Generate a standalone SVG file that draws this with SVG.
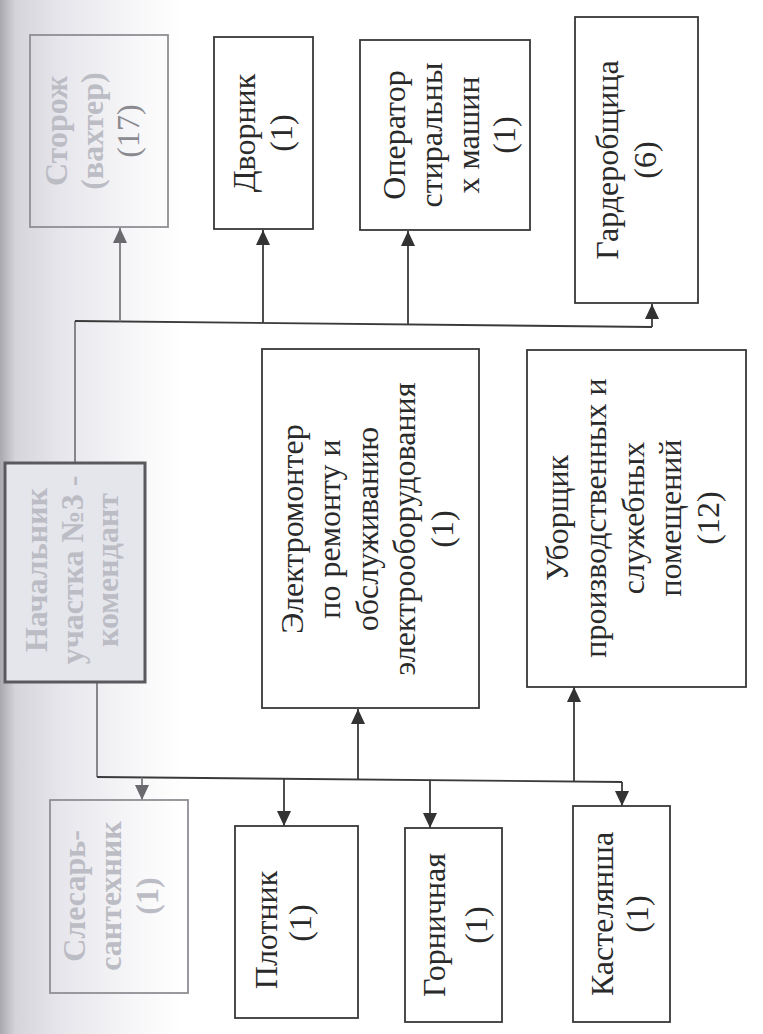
<svg xmlns="http://www.w3.org/2000/svg" width="763" height="1034" viewBox="0 0 763 1034">
  <defs>
    <linearGradient id="page" x1="0" y1="0" x2="763" y2="0" gradientUnits="userSpaceOnUse">
      <stop offset="0" stop-color="#a8a8ae"/>
      <stop offset="0.02" stop-color="#d4d4da"/>
      <stop offset="0.08" stop-color="#e6e6ec"/>
      <stop offset="0.17" stop-color="#f6f6f8"/>
      <stop offset="0.24" stop-color="#ffffff"/>
      <stop offset="1" stop-color="#ffffff"/>
    </linearGradient>
    <marker id="ah" markerUnits="userSpaceOnUse" markerWidth="16" markerHeight="14" refX="15" refY="7" orient="auto">
      <path d="M0,0 L15,7 L0,14 z" fill="#333"/>
    </marker>
    <marker id="ahf" markerUnits="userSpaceOnUse" markerWidth="16" markerHeight="14" refX="15" refY="7" orient="auto">
      <path d="M0,0 L15,7 L0,14 z" fill="#6a6a6e"/>
    </marker>
  </defs>
  <style>
    .box { fill: #ffffff; stroke: #383838; stroke-width: 1.8; }
    .fbox { fill: none; stroke: #8e8e94; stroke-width: 1.8; }
    .mbox { fill: #e4e6ec; stroke: #5a5a5e; stroke-width: 3; }
    .t { font-family: "Liberation Serif", "Times New Roman", serif; font-size: 32px; fill: #2a2a2a; text-anchor: middle; }
    .ft { font-family: "Liberation Serif", "Times New Roman", serif; font-size: 32px; fill: #bcbcc4; font-weight: bold; text-anchor: middle; }
    .ln { fill: none; stroke: #3a3a3a; stroke-width: 1.8; }
    .fln { fill: none; stroke: #7a7a80; stroke-width: 1.8; }
  </style>
  <rect x="0" y="0" width="763" height="1034" fill="url(#page)"/>

  <g id="connectors">
    <path class="fln" d="M75 463 V321"/>
    <path class="ln" d="M75 321 L652 327"/>
    <path class="fln" d="M120 321.5 V228" marker-end="url(#ahf)"/>
    <path class="ln" d="M263 323 V230" marker-end="url(#ah)"/>
    <path class="ln" d="M408 324.5 V231" marker-end="url(#ah)"/>
    <path class="ln" d="M652 327 V304" marker-end="url(#ah)"/>
    <path class="fln" d="M97 682 V777"/>
    <path class="ln" d="M97 777 L622 782"/>
    <path class="fln" d="M142 777.4 V800" marker-end="url(#ahf)"/>
    <path class="ln" d="M284 779 V826" marker-end="url(#ah)"/>
    <path class="ln" d="M358 779.7 V709" marker-end="url(#ah)"/>
    <path class="ln" d="M430 780.3 V828" marker-end="url(#ah)"/>
    <path class="ln" d="M574 781.6 V687" marker-end="url(#ah)"/>
    <path class="ln" d="M622 782 V806" marker-end="url(#ah)"/>
  </g>

  <g id="storozh">
    <rect class="fbox" x="30" y="35" width="138" height="192"/>
    <text class="ft" transform="translate(67,131) rotate(-90)">Сторож</text>
    <text class="ft" transform="translate(103,131) rotate(-90)">(вахтер)</text>
    <text class="t" style="fill:#8a8a90" transform="translate(139,131) rotate(-90)">(17)</text>
  </g>

  <g id="dvornik">
    <rect class="box" x="214" y="37" width="99" height="192"/>
    <text class="t" transform="translate(255,133) rotate(-90)">Дворник</text>
    <text class="t" transform="translate(292,133) rotate(-90)">(1)</text>
  </g>

  <g id="operator">
    <rect class="box" x="360" y="40" width="170" height="190"/>
    <text class="t" transform="translate(405,135) rotate(-90)">Оператор</text>
    <text class="t" transform="translate(442,135) rotate(-90)">стиральны</text>
    <text class="t" transform="translate(479,135) rotate(-90)">х машин</text>
    <text class="t" transform="translate(515,135) rotate(-90)">(1)</text>
  </g>

  <g id="garderob">
    <rect class="box" x="575" y="17" width="123" height="286"/>
    <text class="t" transform="translate(618,160) rotate(-90)">Гардеробщица</text>
    <text class="t" transform="translate(656,160) rotate(-90)">(6)</text>
  </g>

  <g id="nachalnik">
    <rect class="mbox" x="5" y="463" width="140" height="219"/>
    <text class="ft" transform="translate(47,570) rotate(-90)">Начальник</text>
    <text class="ft" transform="translate(83,570) rotate(-90)">участка №3 -</text>
    <text class="ft" transform="translate(118,570) rotate(-90)">комендант</text>
  </g>

  <g id="elektromonter">
    <rect class="box" x="262" y="349" width="217" height="359"/>
    <text class="t" transform="translate(303,529) rotate(-90)">Электромонтер</text>
    <text class="t" transform="translate(340,529) rotate(-90)">по ремонту и</text>
    <text class="t" transform="translate(378,529) rotate(-90)">обслуживанию</text>
    <text class="t" transform="translate(415,529) rotate(-90)">электрооборудования</text>
    <text class="t" transform="translate(453,529) rotate(-90)">(1)</text>
  </g>

  <g id="uborshik">
    <rect class="box" x="527" y="350" width="219" height="337"/>
    <text class="t" transform="translate(568,518) rotate(-90)">Уборщик</text>
    <text class="t" transform="translate(606,518) rotate(-90)">производственных и</text>
    <text class="t" transform="translate(644,518) rotate(-90)">служебных</text>
    <text class="t" transform="translate(681,518) rotate(-90)">помещений</text>
    <text class="t" transform="translate(719,518) rotate(-90)">(12)</text>
  </g>

  <g id="slesar">
    <rect class="fbox" x="50" y="800" width="138" height="193"/>
    <text class="ft" transform="translate(85,896) rotate(-90)">Слесарь-</text>
    <text class="ft" transform="translate(121,896) rotate(-90)">сантехник</text>
    <text class="ft" transform="translate(158,896) rotate(-90)">(1)</text>
  </g>

  <g id="plotnik">
    <rect class="box" x="235" y="826" width="123" height="192"/>
    <text class="t" transform="translate(277,930) rotate(-90)">Плотник</text>
    <text class="t" transform="translate(311,923) rotate(-90)">(1)</text>
  </g>

  <g id="gornichnaya">
    <rect class="box" x="405" y="828" width="97" height="194"/>
    <text class="t" transform="translate(445,925) rotate(-90)">Горничная</text>
    <text class="t" transform="translate(487,925) rotate(-90)">(1)</text>
  </g>

  <g id="kastelyansha">
    <rect class="box" x="573" y="806" width="97" height="216"/>
    <text class="t" transform="translate(613,914) rotate(-90)">Кастелянша</text>
    <text class="t" transform="translate(648,914) rotate(-90)">(1)</text>
  </g>
</svg>
